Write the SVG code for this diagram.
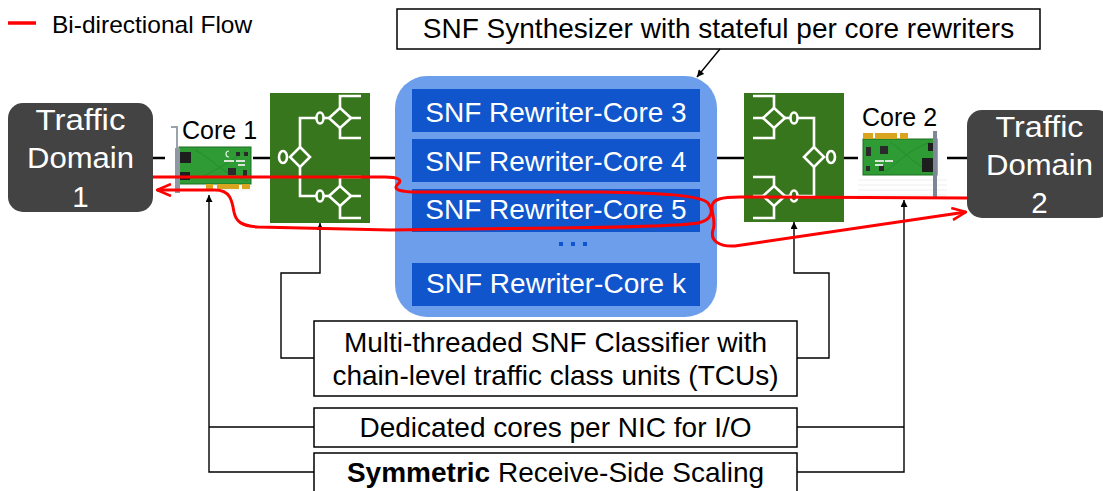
<svg xmlns="http://www.w3.org/2000/svg" width="1103" height="491" viewBox="0 0 1103 491">
  <style>
    text { font-family: "Liberation Sans", Arial, Helvetica, sans-serif; }
    .lbl { font-size: 28px; fill: #000; text-anchor: middle; }
    .wlbl { font-size: 28px; fill: #fff; text-anchor: middle; }
    .dlbl { font-size: 29.5px; fill: #fff; text-anchor: middle; }
    .core { font-size: 25px; fill: #000; }
    .box { fill: #fff; stroke: #000; stroke-width: 1.5; }
    .dom { fill: #434343; }
    .bar { fill: #1155cc; }
    .cls { fill: #38761d; }
    .ico { fill: none; stroke: #fff; stroke-width: 2.6; stroke-linejoin: miter; }
    .conn { fill: none; stroke: #000; stroke-width: 1.4; }
    .flow { fill: none; stroke: #ff0000; stroke-width: 3; stroke-linejoin: round; }
    .pcb { fill: #2f9b35; stroke: #1d6f22; stroke-width: 1; }
    .gold { fill: #d9a520; }
    .port { fill: #1e1e1e; }
    .chip { fill: #2a2a2a; }
    .pad { fill: #d8e6d8; }
    .stripe { stroke: #eeeeee; stroke-width: 1; }
  </style>
  <defs>
    <marker id="tip" viewBox="0 0 10 10" refX="10" refY="5" markerWidth="8" markerHeight="7" markerUnits="userSpaceOnUse" orient="auto">
      <path d="M0,0 L10,5 L0,10 z" fill="#000"/>
    </marker>
    <marker id="redtip" viewBox="0 0 16 14" refX="15" refY="7" markerWidth="16" markerHeight="14" markerUnits="userSpaceOnUse" orient="auto">
      <path d="M1,1 L15,7 L1,13" fill="none" stroke="#ff0000" stroke-width="2.6"/>
    </marker>
    <!-- classifier glyph: a two-level branching tree of circles and diamonds -->
    <g id="tree" class="ico">
      <ellipse cx="283" cy="157" rx="4" ry="6"/>
      <path d="M300,147 L310,157 L300,167 L290,157 Z"/>
      <path d="M300,147 V118 H316.5"/>
      <ellipse cx="320" cy="118" rx="3.5" ry="5.5"/>
      <path d="M323.5,118 H329"/>
      <path d="M340,108 L351,118 L340,128 L329,118 Z"/>
      <path d="M340,108 V96 H361 M351,118 H361 M340,128 V138 H361"/>
      <path d="M300,167 V196 H316.5"/>
      <ellipse cx="320" cy="196" rx="3.5" ry="5.5"/>
      <path d="M323.5,196 H329"/>
      <path d="M340,186 L351,196 L340,206 L329,196 Z"/>
      <path d="M340,186 V177 H361 M351,196 H361 M340,206 V218 H361"/>
    </g>
  </defs>

  <rect width="1103" height="491" fill="#fff"/>

  <!-- legend -->
  <g id="legend">
    <line x1="8" y1="23" x2="36" y2="23" stroke="#ff0000" stroke-width="3.5"/>
    <text x="52" y="33" font-size="24.5">Bi-directional Flow</text>
  </g>

  <!-- backbone link between the two traffic domains -->
  <line id="backbone" x1="153" y1="158" x2="967" y2="158" stroke="#000" stroke-width="2.5"/>

  <!-- traffic domains -->
  <g id="domain1">
    <rect class="dom" x="8" y="103" width="145" height="109" rx="15"/>
    <text class="dlbl" x="80.5" y="130" textLength="90" lengthAdjust="spacingAndGlyphs">Traffic</text>
    <text class="dlbl" x="80.5" y="168" textLength="107" lengthAdjust="spacingAndGlyphs">Domain</text>
    <text class="dlbl" x="80.5" y="207">1</text>
  </g>
  <g id="domain2">
    <rect class="dom" x="967" y="110" width="145" height="108" rx="15"/>
    <text class="dlbl" x="1039.5" y="137" textLength="88" lengthAdjust="spacingAndGlyphs">Traffic</text>
    <text class="dlbl" x="1039.5" y="175" textLength="107" lengthAdjust="spacingAndGlyphs">Domain</text>
    <text class="dlbl" x="1039.5" y="213">2</text>
  </g>

  <!-- NIC on core 1 -->
  <g id="nic1">
    <rect x="165" y="122" width="88" height="73" fill="#fff"/>
    <g class="stripe">
      <line x1="165" y1="186" x2="253" y2="186"/>
      <line x1="165" y1="190" x2="253" y2="190"/>
    </g>
    <path d="M171,127 H177 V150" fill="none" stroke="#9aa2ab" stroke-width="2"/>
    <rect class="pcb" x="179" y="147" width="72" height="37"/>
    <path d="M195,150 C215,160 222,175 248,181 M200,178 C215,170 225,166 246,150" fill="none" stroke="#278a2c" stroke-width="1"/>
    <rect x="175" y="148" width="5" height="45" fill="#8f98a2"/>
    <rect class="port" x="180" y="152" width="11" height="11"/>
    <rect class="port" x="180" y="172" width="10" height="8"/>
    <rect class="gold" x="206" y="184" width="7" height="5"/>
    <rect class="gold" x="217" y="184" width="22" height="5"/>
    <rect class="gold" x="242" y="184" width="8" height="5"/>
    <rect class="chip" x="228" y="168" width="8" height="7"/>
    <rect class="chip" x="236" y="152" width="4" height="4"/>
    <rect class="chip" x="244" y="152" width="4" height="4"/>
    <rect class="chip" x="243" y="170" width="4" height="7"/>
    <rect class="pad" x="224" y="160" width="10" height="2"/>
    <rect class="pad" x="236" y="160" width="9" height="2"/>
    <rect class="pad" x="238" y="164" width="7" height="2"/>
    <path d="M229,151 a3,3 0 1 0 0,6" fill="none" stroke="#e0efe0" stroke-width="1.2"/>
    <text class="core" x="182" y="139">Core 1</text>
  </g>

  <!-- NIC on core 2 -->
  <g id="nic2">
    <rect x="858" y="128" width="89" height="70" fill="#fff"/>
    <g class="stripe">
      <line x1="858" y1="180" x2="947" y2="180"/>
      <line x1="858" y1="185" x2="947" y2="185"/>
      <line x1="858" y1="190" x2="947" y2="190"/>
      <line x1="858" y1="195" x2="947" y2="195"/>
    </g>
    <rect class="pcb" x="863" y="139" width="74" height="36"/>
    <path d="M885,172 C900,160 910,150 930,142 M890,142 C905,152 915,165 932,172" fill="none" stroke="#278a2c" stroke-width="1"/>
    <rect class="gold" x="863" y="133" width="10" height="6"/>
    <rect class="gold" x="875" y="133" width="22" height="6"/>
    <rect class="gold" x="900" y="133" width="8" height="6"/>
    <rect class="chip" x="866" y="147" width="5" height="9"/>
    <rect class="chip" x="880" y="146" width="8" height="8"/>
    <rect class="chip" x="866" y="166" width="4" height="5"/>
    <rect class="chip" x="879" y="166" width="5" height="5"/>
    <rect class="pad" x="875" y="160" width="9" height="2"/>
    <rect class="pad" x="885" y="160" width="8" height="2"/>
    <rect class="pad" x="875" y="164" width="8" height="2"/>
    <rect class="port" x="922" y="158" width="13" height="14"/>
    <rect class="port" x="928" y="143" width="5" height="8"/>
    <rect x="933" y="131" width="4" height="66" fill="#7d8896"/>
    <text class="core" x="862" y="126">Core 2</text>
  </g>

  <!-- packet classifiers -->
  <g id="classifier1">
    <rect class="cls" x="270" y="93" width="100" height="130"/>
    <use href="#tree"/>
  </g>
  <g id="classifier2">
    <rect class="cls" x="744" y="93" width="100" height="129"/>
    <use href="#tree" transform="translate(1114,0) scale(-1,1)"/>
  </g>

  <!-- per-core rewriters -->
  <g id="rewriters">
    <rect x="395" y="76" width="322" height="241" rx="32" fill="#6d9eeb"/>
    <rect class="bar" x="412" y="89" width="288" height="43"/>
    <text class="wlbl" x="556" y="122">SNF Rewriter-Core 3</text>
    <rect class="bar" x="412" y="139" width="288" height="43"/>
    <text class="wlbl" x="556" y="171">SNF Rewriter-Core 4</text>
    <rect class="bar" x="412" y="189" width="288" height="43"/>
    <text class="wlbl" x="556" y="219">SNF Rewriter-Core 5</text>
    <g fill="#1155cc">
      <rect x="559" y="242" width="4" height="4"/>
      <rect x="571" y="242" width="4" height="4"/>
      <rect x="583" y="242" width="4" height="4"/>
    </g>
    <rect class="bar" x="412" y="263" width="288" height="43"/>
    <text class="wlbl" x="556" y="293">SNF Rewriter-Core k</text>
  </g>

  <!-- annotation boxes -->
  <g id="synthesizer">
    <rect class="box" x="397" y="9" width="643" height="40"/>
    <text class="lbl" x="718.5" y="38">SNF Synthesizer with stateful per core rewriters</text>
  </g>
  <g id="classifier-note">
    <rect class="box" x="314" y="321" width="483" height="75"/>
    <text class="lbl" x="555.5" y="352">Multi-threaded SNF Classifier with</text>
    <text class="lbl" x="555.5" y="385">chain-level traffic class units (TCUs)</text>
  </g>
  <g id="io-note">
    <rect class="box" x="314" y="408" width="483" height="39"/>
    <text class="lbl" x="555.5" y="437">Dedicated cores per NIC for I/O</text>
  </g>
  <g id="rss-note">
    <rect class="box" x="314" y="453" width="483" height="45"/>
    <text class="lbl" x="555.5" y="482"><tspan font-weight="bold">Symmetric</tspan> Receive-Side Scaling</text>
  </g>

  <!-- connectors -->
  <g id="connectors">
    <path class="conn" d="M720,49 L697,77" marker-end="url(#tip)"/>
    <path class="conn" d="M314,358 H281 V273 H320 V223" marker-end="url(#tip)"/>
    <path class="conn" d="M797,358 H829 V273 H794 V222" marker-end="url(#tip)"/>
    <path class="conn" d="M314,427 H209 M314,472 H209 V195" marker-end="url(#tip)"/>
    <path class="conn" d="M797,427 H904 M797,472 H904 V200" marker-end="url(#tip)"/>
  </g>

  <!-- bi-directional flows -->
  <g id="flows">
    <path class="flow" d="M153,177 L385,177 C398,177 403,180 398,184 C393,189 397,191 412,192 L600,192 C660,193 700,195 708,203 C714,211 712,220 698,223 C680,226 640,227 560,228 L390,230 L258,227 C242,226 236,222 234,212 C232,200 230,190 215,190 L157,190" marker-end="url(#redtip)"/>
    <path class="flow" d="M967,198 L740,197 C722,197 712,199 712,207 C712,216 716,222 713,230 C710,240 718,247 735,246 L966,212" marker-end="url(#redtip)"/>
  </g>
</svg>
